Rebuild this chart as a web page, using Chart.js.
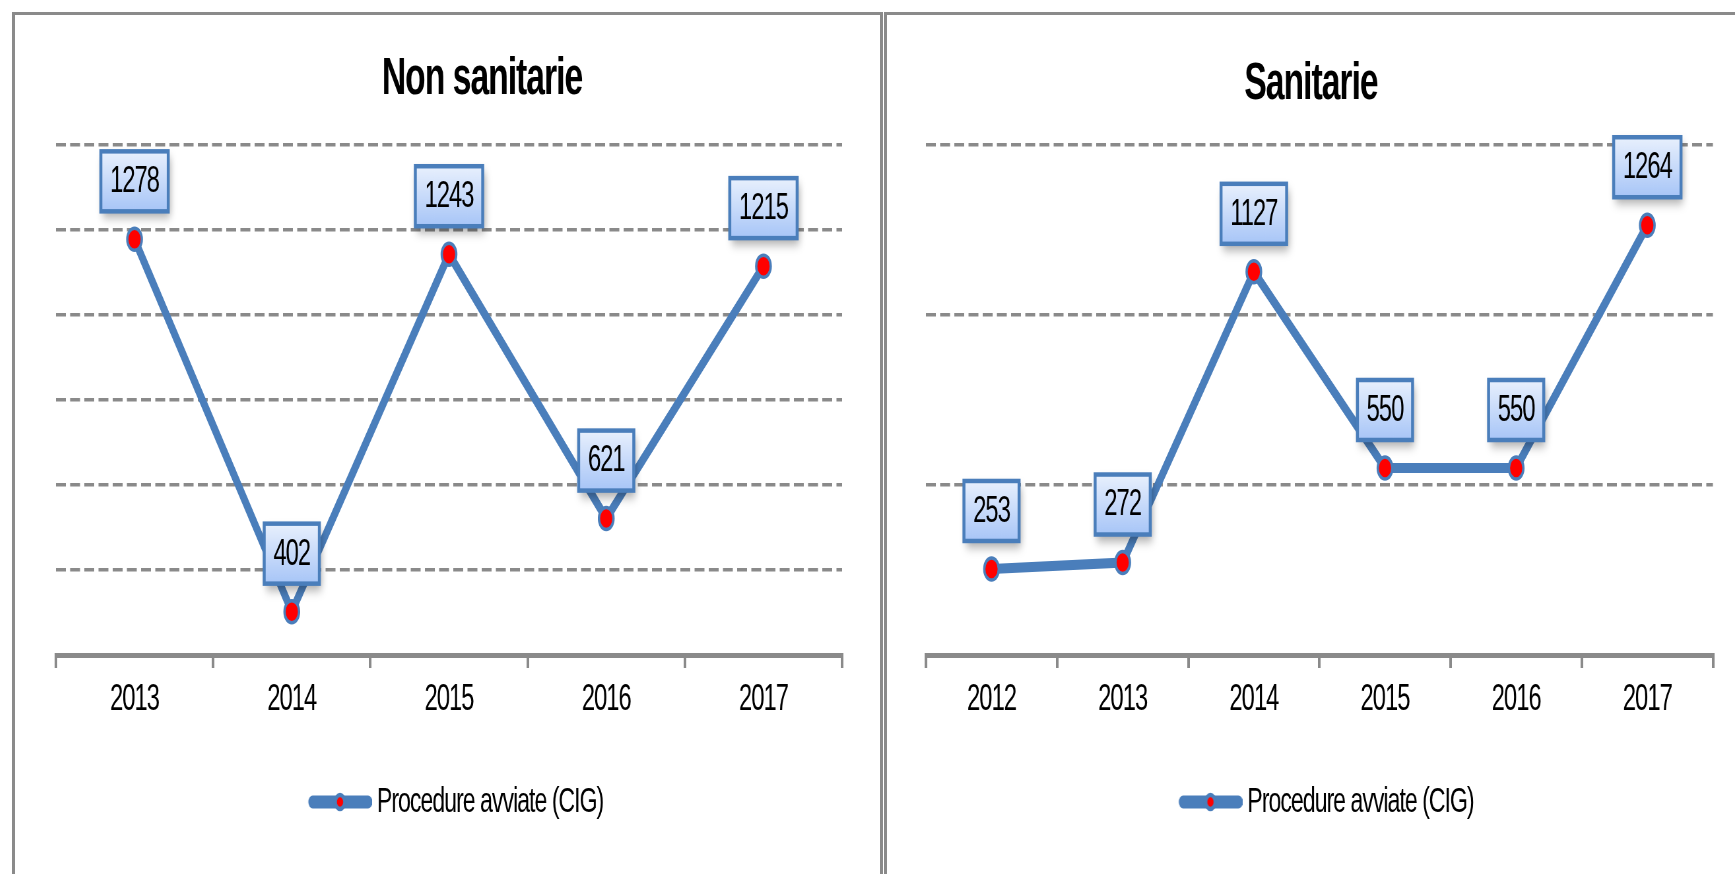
<!DOCTYPE html>
<html>
<head>
<meta charset="utf-8">
<script src="https://cdn.jsdelivr.net/npm/chart.js@4.4.1/dist/chart.umd.min.js"></script>
<style>
	html, body { margin: 0; padding: 0; background: #fff; }
	body { width: 1735px; height: 874px; position: relative; overflow: hidden; }
	.panel { position: absolute; top: 12px; height: 900px; border: 3px solid #8a8a8a; box-sizing: border-box; }
	#panelA { left: 12px; width: 871px; }
	#panelB { left: 884px; width: 900px; }
	canvas { position: absolute; top: 15px; }
</style>
</head>
<body>
<div class="panel" id="panelA"></div>
<div class="panel" id="panelB"></div>
<!-- the source picture is squeezed sideways, so each canvas is drawn wider and shown narrower -->
<canvas id="chartA" width="1415" height="859" style="left:15px;width:934px;height:859px"></canvas>
<canvas id="chartB" width="1285" height="859" style="left:887px;width:848px;height:859px"></canvas>
<script>
const seriesName = 'Procedure avviate (CIG)'

const yearsNonSan = ['2013', '2014', '2015', '2016', '2017']
const valuesNonSan = [1278, 402, 1243, 621, 1215]

const yearsSan = ['2012', '2013', '2014', '2015', '2016', '2017']
const valuesSan = [253, 272, 1127, 550, 550, 1264]

const blue = '#4a7ebb'
const gray = '#8a8a8a'
const sans = '"Liberation Sans", Arial, sans-serif'

// legend symbol: thick line with a marker in the middle (drawn a bit right of centre)
function legendSymbol() {
	const c = document.createElement('canvas')
	c.width = 127
	c.height = 30
	const g = c.getContext('2d')
	g.strokeStyle = blue
	g.lineWidth = 13
	g.lineCap = 'round'
	g.beginPath()
	g.moveTo(37, 15)
	g.lineTo(121, 15)
	g.stroke()
	g.beginPath()
	g.arc(78.5, 15, 7, 0, Math.PI * 2)
	g.fillStyle = 'red'
	g.fill()
	g.lineWidth = 4.5
	g.stroke()
	return c
}

// the original labels use a narrow face, tighten the letters a little
const tightText = {
	id: 'tightText',
	beforeUpdate(chart) {
		chart.ctx.letterSpacing = '-1.5px'
	},
	beforeDraw(chart) {
		chart.ctx.letterSpacing = '-1.5px'
	},
}

// value boxes above each point
const labelBoxes = {
	id: 'labelBoxes',
	afterDatasetsDraw(chart) {
		const ctx = chart.ctx
		const meta = chart.getDatasetMeta(0)
		const values = chart.data.datasets[0].data
		ctx.save()
		ctx.font = '36px ' + sans
		meta.data.forEach((pt, i) => {
			const text = String(values[i])
			const w = ctx.measureText(text).width + 28
			const h = 60
			const x = pt.x - w / 2
			const y = pt.y - 28 - h
			const grad = ctx.createLinearGradient(0, y, 0, y + h)
			grad.addColorStop(0, '#e8f0fd')
			grad.addColorStop(1, '#a7c5f7')
			ctx.shadowColor = 'rgba(0,0,0,0.35)'
			ctx.shadowBlur = 10
			ctx.shadowOffsetX = 3
			ctx.shadowOffsetY = 6
			ctx.fillStyle = grad
			ctx.fillRect(x, y, w, h)
			ctx.shadowColor = 'transparent'
			ctx.lineWidth = 4.5
			ctx.strokeStyle = blue
			ctx.strokeRect(x, y, w, h)
			ctx.fillStyle = '#000'
			ctx.textAlign = 'center'
			ctx.textBaseline = 'middle'
			ctx.fillText(text, pt.x, y + h / 2 + 1)
		})
		ctx.restore()
	},
}

function makeChart(id, title, labels, values, y, sides) {
	return new Chart(document.getElementById(id), {
		type: 'line',
		data: {
			labels: labels,
			datasets: [
				{
					label: seriesName,
					data: values,
					borderColor: blue,
					borderWidth: 10,
					tension: 0,
					pointRadius: 11,
					pointHoverRadius: 11,
					pointBorderWidth: 3.5,
					pointBackgroundColor: 'red',
					pointBorderColor: blue,
				},
			],
		},
		options: {
			responsive: false,
			devicePixelRatio: 1,
			animation: false,
			layout: { padding: { top: 0, bottom: 44.5, left: 0, right: 0 } },
			scales: {
				x: {
					type: 'category',
					offset: true,
					grid: {
						offset: true,
						drawOnChartArea: false,
						drawTicks: true,
						tickLength: 13,
						color: gray,
						lineWidth: 4,
					},
					border: { display: true, color: gray, width: 5 },
					ticks: {
						color: '#000',
						padding: 10,
						maxRotation: 0,
						autoSkip: false,
						font: { family: sans, size: 36 },
					},
				},
				y: {
					min: y.min,
					max: y.max,
					ticks: { display: false, stepSize: y.step },
					grid: { color: gray, lineWidth: 3.5, drawTicks: false },
					border: { display: false, dash: [15, 6.5] },
					afterFit(scale) {
						scale.width = sides.left
					},
				},
				yr: {
					position: 'right',
					ticks: { display: false },
					grid: { display: false, drawTicks: false },
					border: { display: false },
					afterFit(scale) {
						scale.width = sides.right
					},
				},
			},
			plugins: {
				title: {
					display: true,
					text: title,
					color: '#000',
					font: { family: sans, size: 51, weight: 'bold' },
					padding: { top: sides.titleTop, bottom: 130 - sides.titleTop - 61.2 },
				},
				legend: {
					position: 'bottom',
					fullSize: false,
					labels: {
						usePointStyle: true,
						pointStyle: legendSymbol(),
						pointStyleWidth: 107,
						padding: 53.3,
						color: '#000',
						font: { family: sans, size: 35 },
					},
				},
				tooltip: { enabled: false },
			},
		},
		plugins: [tightText, labelBoxes],
	})
}

makeChart('chartA', 'Non sanitarie', yearsNonSan, valuesNonSan,
	{ min: 300, max: 1500, step: 200 },
	{ left: 62, right: 162, titleTop: 34.4 })

makeChart('chartB', 'Sanitarie', yearsSan, valuesSan,
	{ min: 0, max: 1500, step: 500 },
	{ left: 59, right: 33.5, titleTop: 38.9 })
</script>
</body>
</html>
